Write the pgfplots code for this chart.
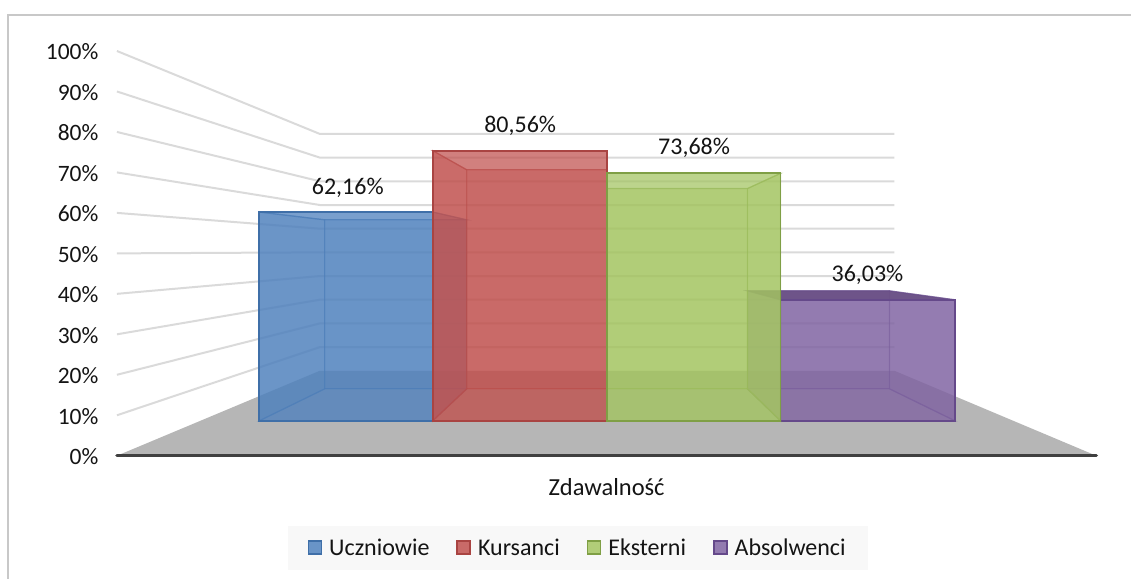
\documentclass[border=0pt]{standalone}
\usepackage{pgfplots}
\pgfplotsset{compat=1.18}
\usepackage{fontspec}
\setmainfont{Carlito}
\definecolor{cB}{HTML}{4F81BD}\definecolor{eB}{HTML}{3F6FA8}
\definecolor{cR}{HTML}{C0504D}\definecolor{eR}{HTML}{A94442}
\definecolor{cG}{HTML}{A3C460}\definecolor{eG}{HTML}{7F9F45}
\definecolor{cP}{HTML}{8064A2}\definecolor{eP}{HTML}{65498A}
\definecolor{tP}{HTML}{6A5086}
\definecolor{gridc}{HTML}{DADADA}
\definecolor{floorc}{HTML}{B6B6B6}
\definecolor{framec}{HTML}{C8C8C8}
\definecolor{legbg}{HTML}{F8F8F8}
\definecolor{axc}{HTML}{404040}
% x0f x1f x0b x1b ytopfront ytopback colour edge topcolour topopacity
\newcommand{\threedbar}[9]{%
  \addplot[forget plot,fill=#7,fill opacity=.30,draw=#8,draw opacity=.45,line width=1.2pt] coordinates {(#1,8.64)(#2,8.64)(#4,16.54)(#3,16.54)} -- cycle;
  \addplot[forget plot,fill=#7,fill opacity=.50,draw=#8,draw opacity=.45,line width=1.2pt] coordinates {(#3,16.54)(#4,16.54)(#4,#6)(#3,#6)} -- cycle;
  \addplot[forget plot,fill=#7,fill opacity=.48,draw=#8,draw opacity=.45,line width=1.2pt] coordinates {(#1,8.64)(#3,16.54)(#3,#6)(#1,#5)} -- cycle;
  \addplot[forget plot,fill=#7,fill opacity=.48,draw=#8,draw opacity=.45,line width=1.2pt] coordinates {(#2,8.64)(#4,16.54)(#4,#6)(#2,#5)} -- cycle;
  \addplot[forget plot,fill=#9,draw=#8,draw opacity=.6,line width=1.2pt] coordinates {(#1,#5)(#2,#5)(#4,#6)(#3,#6)} -- cycle;
  \addplot[forget plot,fill=#7,fill opacity=.70,draw=#8,line width=1.9pt] coordinates {(#1,8.64)(#2,8.64)(#2,#5)(#1,#5)} -- cycle;
}
\begin{document}
\begin{tikzpicture}
\begin{axis}[
  scale only axis,width=980pt,height=405pt,
  xmin=117,xmax=1097,ymin=0,ymax=100,clip=false,
  axis line style={draw=none},
  major tick style={draw=none},
  xtick=\empty,
  ytick={0,10,...,100},
  yticklabel={\pgfmathprintnumber{\tick}\%},
  /pgf/number format/assume math mode=true,
  tick label style={font=\fontsize{23.5}{26}\selectfont,text=black!92},
  yticklabel style={xshift=-15pt,yshift=-1pt},
  xlabel={Zdawalność},
  every axis x label/.style={at={(axis description cs:0.5,0)},anchor=center,yshift=-31pt,font=\fontsize{24.5}{27}\selectfont,text=black!92},
  legend columns=-1,
  legend style={at={(axis cs:578,-22.7)},anchor=center,fill=legbg,draw=none,
    font=\fontsize{24}{27}\selectfont,text=black!92,
    inner xsep=20pt,inner ysep=11pt,
    /tikz/every odd column/.append style={column sep=5pt},
    /tikz/every even column/.append style={column sep=25pt}},
  legend image code/.code={\draw[#1,line width=1.6pt] (0pt,-6.5pt) rectangle (13pt,6.5pt);},
]
% page extent and frame
\path (axis cs:0,112.6) rectangle (axis cs:1132,-30.37);
\addplot[forget plot,draw=framec,line width=1.4pt] coordinates {(8,-30.37)(8,108.9)(1132,108.9)};
% floor
\addplot[forget plot,fill=floorc,draw=none] coordinates {(117,0)(320,20.99)(895,20.99)(1097,0)} -- cycle;
% gridlines
\addplot[forget plot,gridc,line width=2pt] coordinates {(117,10)(320,26.84)(895,26.84)};
\addplot[forget plot,gridc,line width=2pt] coordinates {(117,20)(320,32.69)(895,32.69)};
\addplot[forget plot,gridc,line width=2pt] coordinates {(117,30)(320,38.55)(895,38.55)};
\addplot[forget plot,gridc,line width=2pt] coordinates {(117,40)(320,44.40)(895,44.40)};
\addplot[forget plot,gridc,line width=2pt] coordinates {(117,50)(320,50.25)(895,50.25)};
\addplot[forget plot,gridc,line width=2pt] coordinates {(117,60)(320,56.10)(895,56.10)};
\addplot[forget plot,gridc,line width=2pt] coordinates {(117,70)(320,61.95)(895,61.95)};
\addplot[forget plot,gridc,line width=2pt] coordinates {(117,80)(320,67.81)(895,67.81)};
\addplot[forget plot,gridc,line width=2pt] coordinates {(117,90)(320,73.66)(895,73.66)};
\addplot[forget plot,gridc,line width=2pt] coordinates {(117,100)(320,79.51)(895,79.51)};
% bars
\threedbar{259.5}{433}{325}{467}{60.21}{58.29}{cB}{eB}{cB,fill opacity=.2}
\threedbar{433}{607}{467}{607}{75.38}{70.65}{cR}{eR}{cR,fill opacity=.08}
\threedbar{781}{955.5}{748}{890}{38.53}{40.74}{cP}{eP}{tP,fill opacity=.95}
\threedbar{607}{781}{607}{748}{69.77}{66.02}{cG}{eG}{cG,fill opacity=.08}
% baseline
\addplot[forget plot,axc,line width=3.4pt,line cap=round] coordinates {(117,0)(1097,0)};
% value labels
\node[font=\fontsize{24}{27}\selectfont,text=black!92] at (axis cs:348,66.2) {62,16\%};
\node[font=\fontsize{24}{27}\selectfont,text=black!92] at (axis cs:520.5,81.5) {80,56\%};
\node[font=\fontsize{24}{27}\selectfont,text=black!92] at (axis cs:694.5,76.0) {73,68\%};
\node[font=\fontsize{24}{27}\selectfont,text=black!92] at (axis cs:868,44.7) {36,03\%};
% legend
\addlegendimage{fill=cB!85,draw=eB}
\addlegendentry{Uczniowie}
\addlegendimage{fill=cR!85,draw=eR}
\addlegendentry{Kursanci}
\addlegendimage{fill=cG!85,draw=eG}
\addlegendentry{Eksterni}
\addlegendimage{fill=cP!85,draw=eP}
\addlegendentry{Absolwenci}
\end{axis}
\end{tikzpicture}
\end{document}
